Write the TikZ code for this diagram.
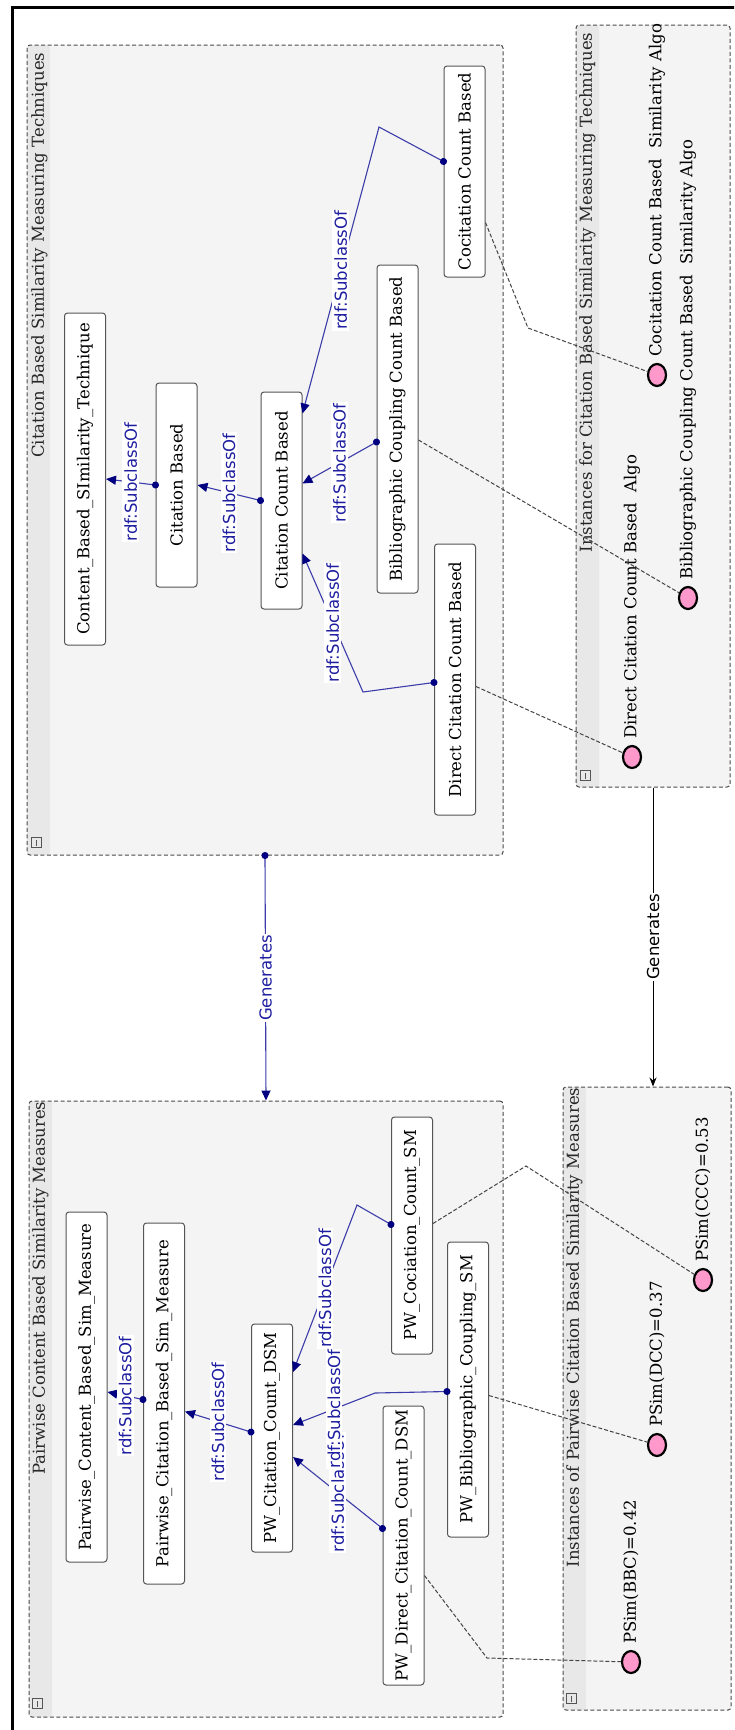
\documentclass[tikz,border=0pt]{standalone}
\usepackage{fontspec}
\setmainfont{DejaVu Serif}
\newfontfamily\edgefont{DejaVu Sans}
\usepackage{tikz}
\usetikzlibrary{arrows.meta, shapes.geometric, calc}
\definecolor{grpfill}{HTML}{F4F4F4}
\definecolor{bandfill}{HTML}{E8E8E8}
\definecolor{grpline}{HTML}{4A4A4A}
\definecolor{boxline}{HTML}{555555}
\definecolor{subline}{HTML}{3C3CAA}
\definecolor{subtip}{HTML}{000080}
\definecolor{lbltext}{HTML}{1E1EA0}
\definecolor{instpink}{HTML}{FF99CC}
\definecolor{dashgray}{HTML}{444444}

\begin{document}
\begin{tikzpicture}[x=1pt,y=-1pt,font=\fontsize{16.5}{19}\selectfont]
 \tikzstyle{grp}=[draw=grpline,line width=1pt,dash pattern=on 4pt off 2.5pt,fill=grpfill,
   rounded corners=3pt,inner sep=0pt,
   path picture={\fill[bandfill] (path picture bounding box.north west)
     rectangle ([xshift=23pt]path picture bounding box.south west);}]
 \tikzstyle{title}=[rotate=90,anchor=east,inner sep=0pt,text=black!85]
 \tikzstyle{collapse}=[draw=boxline,fill=bandfill,minimum size=10pt,inner sep=0pt,
   path picture={\draw (path picture bounding box.center) ++(0,-3pt) -- ++(0,6pt);}]
 \tikzstyle{cls}=[rectangle,rounded corners=3pt,draw=boxline,line width=1pt,fill=white,
   rotate=90,minimum height=41pt,inner xsep=0pt,inner ysep=0pt]
 \tikzstyle{inst}=[ellipse,draw=black,line width=2.2pt,fill=instpink,
   minimum width=18pt,minimum height=22pt,inner sep=0pt]
 \tikzstyle{itext}=[rotate=90,anchor=west,inner sep=0pt]
 \tikzstyle{subcls}=[draw=subline,line width=1.1pt,shorten <=-3.5pt,
   {Circle[length=7pt,color=subtip]}-{Triangle[length=10pt,width=9pt,color=subtip]}]
 \tikzstyle{lbl}=[midway,rotate=90,fill=white,text=lbltext,inner xsep=1pt,inner ysep=2pt,
   font=\edgefont\fontsize{16.5}{19}\selectfont]
 \tikzstyle{genarrow}=[draw=black,line width=1pt,-{Stealth[length=9pt,width=7pt]}]
 \tikzstyle{glbl}=[midway,rotate=90,fill=white,inner xsep=1pt,inner ysep=2pt,
   font=\edgefont\fontsize{16.5}{19}\selectfont]
 \tikzstyle{insof}=[draw=dashgray,line width=1pt,dash pattern=on 4pt off 2pt]

 \useasboundingbox (0,0) rectangle (734,1730);
 \clip (0,0) rectangle (734,1730);
 \draw[line width=3pt] (12,1745) -- (12,7) -- (745,7);

 % groups
 \node (gCite) [grp,minimum width=476pt,minimum height=810pt] at (265,450) {};
 \node (gInst) [grp,minimum width=154pt,minimum height=762pt] at (653,406) {};
 \node (gPair) [grp,minimum width=474pt,minimum height=616pt] at (266,1409) {};
 \node (gInstPW) [grp,minimum width=168pt,minimum height=623pt] at (647,1398.5) {};
 \node (tCite) [title] at ($(gCite.north west)+(13,8)$)
   {Citation Based Similarity Measuring Techniques};
 \node (tInst) [title] at ($(gInst.north west)+(12,8)$)
   {Instances for Citation Based Similarity Measuring Techniques};
 \node (tPair) [title] at ($(gPair.north west)+(12,1)$)
   {Pairwise Content Based Similarity Measures};
 \node (tInstPW) [title] at ($(gInstPW.north west)+(12,1)$)
   {Instances of Pairwise Citation Based Similarity Measures};
 \node (mCite) [collapse] at ($(gCite.south west)+(10,-13)$) {};
 \node (mInst) [collapse] at ($(gInst.south west)+(10,-12)$) {};
 \node (mPair) [collapse] at ($(gPair.south west)+(9,-14)$) {};
 \node (mInstPW) [collapse] at ($(gInstPW.south west)+(9,-12)$) {};

 % classes
 \node (cbst) [cls,minimum width=332pt] at (85,479) {Content\_Based\_SImilarity\_Technique};
 \node (cb) [cls,minimum width=204pt] at (176.5,485) {Citation Based};
 \node (ccb) [cls,minimum width=217pt] at (281.5,500.5) {Citation Count Based};
 \node (bcc) [cls,minimum width=328pt] at (397.5,429) {Bibliographic Coupling Count Based};
 \node (coc) [cls,minimum width=211pt] at (464.5,171.5) {Cocitation Count Based};
 \node (dcc) [cls,minimum width=271pt] at (455,679.5) {Direct Citation Count Based};

 \node (pcnt) [cls,minimum width=350pt] at (86.5,1387) {Pairwise\_Content\_Based\_Sim\_Measure};
 \node (pcb) [cls,minimum width=361pt] at (164,1403.5) {Pairwise\_Citation\_Based\_Sim\_Measure};
 \node (pwccd) [cls,minimum width=228pt] at (272,1438)
   {\makebox[218pt]{PW\_Citation\_Count\_DSM}};
 \node (pwcoc) [cls,minimum width=237pt] at (412,1235.5) {PW\_Cociation\_Count\_SM};
 \node (pwbib) [cls,minimum width=295pt] at (468,1389.5) {PW\_Bibliographic\_Coupling\_SM};
 \node (pwdir) [cls,minimum width=279pt] at (403.5,1545.5)
   {\makebox[269pt]{PW\_Direct\_Citation\_Count\_DSM}};

 % instances
 \node (idcc) [inst] at (632,757) {};
 \node (idcc-t) [itext] at ($(idcc.north)+(0,-6)$) {Direct Citation Count Based\ \ Algo};
 \node (ibcc) [inst] at (688,598) {};
 \node (ibcc-t) [itext] at ($(ibcc.north)+(0,-6)$)
   {Bibliographic Coupling Count Based\ \ Similarity Algo};
 \node (iccc) [inst] at (657,375) {};
 \node (iccc-t) [itext] at ($(iccc.north)+(0,-6)$) {Cocitation Count Based\ \ Similarity Algo};
 \node (ipccc) [inst] at (703,1280) {};
 \node (ipccc-t) [itext] at ($(ipccc.north)+(0,-6)$) {PSim(CCC)=0.53};
 \node (ipdcc) [inst] at (657,1445) {};
 \node (ipdcc-t) [itext] at ($(ipdcc.north)+(0,-6)$) {PSim(DCC)=0.37};
 \node (ipbbc) [inst] at (631,1662) {};
 \node (ipbbc-t) [itext] at ($(ipbbc.north)+(0,-6)$) {PSim(BBC)=0.42};

 % rdf:SubclassOf
 \draw[subcls] (cb.north) -- node[lbl] {rdf:SubclassOf} (cbst.south);
 \draw[subcls] (ccb.north) -- node[lbl] {rdf:SubclassOf} (cb.south);
 \draw[subcls] ($(bcc.north)+(0,13)$) -- node[lbl] {rdf:SubclassOf} ($(ccb.south)+(0,-17)$);
 \draw[subcls] ($(coc.north)+(0,-10)$) -- (379,127) --
   node[lbl] {rdf:SubclassOf} ($(ccb.south)+(0,-87)$);
 \draw[subcls] ($(dcc.north)+(0,3)$) -- (363,692) --
   node[lbl] {rdf:SubclassOf} ($(ccb.south)+(0,53)$);

 \draw[subcls] ($(pcb.north)+(0,-4)$) -- node[lbl] {rdf:SubclassOf} ($(pcnt.south)+(0,5)$);
 \draw[subcls] ($(pwccd.north)+(0,-6)$) -- node[lbl] {rdf:SubclassOf} ($(pcb.south)+(0,8)$);
 \draw[subcls] ($(pwcoc.north)+(0,-11)$) -- (357,1205) --
   node[lbl] {rdf:SubclassOf} ($(pwccd.south)+(0,-66)$);
 \draw[subcls] ($(pwdir.north)+(0,-17)$) -- node[lbl] {rdf:SubclassOf} ($(pwccd.south)+(0,19)$);
 \draw[subcls] ($(pwbib.north)+(0,2)$) -- (375,1393) --
   node[lbl] {rdf:SubclassOf} ($(pwccd.south)+(0,-13)$);

 % Generates
 \draw[subcls] (gCite.south) -- node[lbl] {Generates} (gPair.north);
 \draw[genarrow] (gInst.south) -- node[glbl] {Generates} (gInst.south |- gInstPW.north);

 % instance links
 \draw[insof] ($(coc.south)+(0,51)$) -- (528,328) -- (iccc);
 \draw[insof] ($(bcc.south)+(0,11)$) -- (ibcc);
 \draw[insof] ($(dcc.south)+(0,7)$) -- (idcc);
 \draw[insof] ($(pwcoc.south)+(0,-12)$) -- (526,1166) -- (ipccc);
 \draw[insof] ($(pwbib.south)+(0,6)$) -- (ipdcc);
 \draw[insof] ($(pwdir.south)+(0,30)$) -- (487,1658) -- (ipbbc);
\end{tikzpicture}
\end{document}
